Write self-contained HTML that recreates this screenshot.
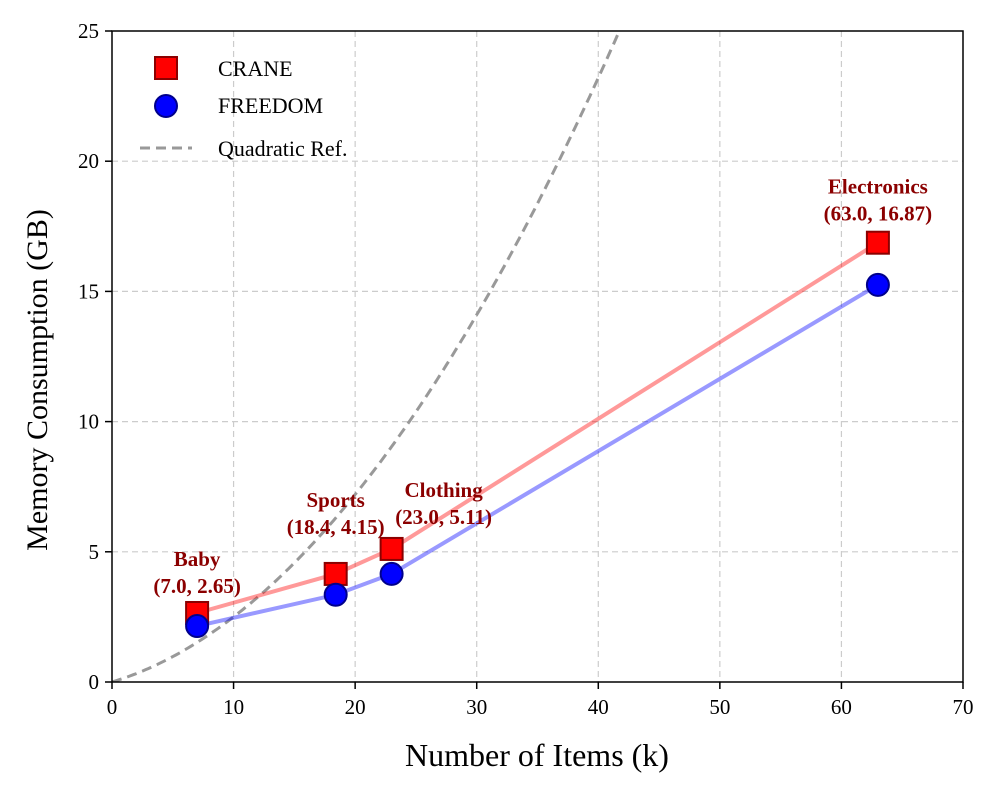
<!DOCTYPE html>
<html><head><meta charset="utf-8"><style>
body{margin:0;background:#fff}
svg{font-family:"Liberation Serif","DejaVu Serif",serif}
</style></head><body>
<svg id="chart" width="998" height="792">
<g id="grid"></g>
<g id="marks"></g>
<g id="axes"></g>
<text x="537" y="766" font-size="32" text-anchor="middle">Number of Items (k)</text>
<text transform="translate(47,380) rotate(-90)" font-size="30" text-anchor="middle">Memory Consumption (GB)</text>
<g font-size="22">
<g><rect x="155" y="57" width="22" height="22" fill="#f00" stroke="#8b0000" stroke-width="2"/><text x="218" y="76">CRANE</text></g>
<g><circle cx="166" cy="106" r="11" fill="#00f" stroke="#00008b" stroke-width="2"/><text x="218" y="113">FREEDOM</text></g>
<g><line x1="140" y1="148" x2="192" y2="148" stroke="#999" stroke-width="3" stroke-dasharray="10,6"/><text x="218" y="156">Quadratic Ref.</text></g>
</g>
</svg>
<script>
const categories=["Baby","Sports","Clothing","Electronics"];
const itemsK=[7.0,18.4,23.0,63.0];
const crane=[2.65,4.15,5.11,16.87];
const freedom=[2.15,3.35,4.15,15.25];
const xTicks=[0,10,20,30,40,50,60,70];
const yTicks=[0,5,10,15,20,25];
const quadA=0.011, quadB=0.14;
// label layout offsets (px), not data
const labelDx=[0,0,52,0], labelDy=[-20,-40,-25,-22];
const NS="http://www.w3.org/2000/svg";
const X=v=>112+v*(963-112)/70, Y=v=>682-v*(682-31)/25;
function mk(t,a,p){const e=document.createElementNS(NS,t);for(const k in a)e.setAttribute(k,a[k]);p.appendChild(e);return e;}
const grid=document.getElementById('grid'),axes=document.getElementById('axes'),marks=document.getElementById('marks');
xTicks.forEach(t=>{if(t>0&&t<70){const l=mk('line',{x1:X(t),x2:X(t),y1:31,y2:682,stroke:'#ccc','stroke-dasharray':'6,4','stroke-width':1.2},grid);}
 mk('line',{x1:X(t),x2:X(t),y1:682,y2:689,stroke:'#000','stroke-width':1.5},axes);
 const tx=mk('text',{x:X(t),y:714,'font-size':21,'text-anchor':'middle'},axes);tx.textContent=t;
 });
yTicks.forEach(t=>{if(t>0&&t<25){const l=mk('line',{x1:112,x2:963,y1:Y(t),y2:Y(t),stroke:'#ccc','stroke-dasharray':'6,4','stroke-width':1.2},grid);}
 mk('line',{x1:105,x2:112,y1:Y(t),y2:Y(t),stroke:'#000','stroke-width':1.5},axes);
 const tx=mk('text',{x:99,y:Y(t)+7,'font-size':21,'text-anchor':'end'},axes);tx.textContent=t;
 });
mk('rect',{x:112,y:31,width:851,height:651,fill:'none',stroke:'#000','stroke-width':1.5},axes);
let d='';for(let x=0;x<=70;x+=0.25){const y=quadA*x*x+quadB*x;if(y>25.5)break;d+=(d?'L':'M')+X(x).toFixed(1)+','+Y(y).toFixed(1);}
const cp=mk('clipPath',{id:'clip'},marks);mk('rect',{x:112,y:31,width:851,height:651},cp);
const q=mk('path',{d:d,fill:'none',stroke:'#999','stroke-width':3,'stroke-dasharray':'10,6','clip-path':'url(#clip)'},marks);

const lc=mk('polyline',{points:itemsK.map((x,i)=>X(x)+','+Y(crane[i])).join(' '),fill:'none',stroke:'#f00','stroke-opacity':0.4,'stroke-width':4},marks);

const lf=mk('polyline',{points:itemsK.map((x,i)=>X(x)+','+Y(freedom[i])).join(' '),fill:'none',stroke:'#00f','stroke-opacity':0.4,'stroke-width':4},marks);

itemsK.forEach((x,i)=>{
 const r=mk('rect',{x:X(x)-11,y:Y(crane[i])-11,width:22,height:22,fill:'#f00',stroke:'#8b0000','stroke-width':2},marks);
 
 const c=mk('circle',{cx:X(x),cy:Y(freedom[i]),r:11,fill:'#00f',stroke:'#00008b','stroke-width':2},marks);
 
 const g=mk('g',{'font-size':21,'font-weight':'bold',fill:'#8b0000','text-anchor':'middle'},marks);
 
 const ty=Y(crane[i])+labelDy[i], tx=X(x)+labelDx[i];
 const t1=mk('text',{x:tx,y:ty-27},g);t1.textContent=categories[i];
 const t2=mk('text',{x:tx,y:ty},g);t2.textContent='('+x.toFixed(1)+', '+crane[i].toFixed(2)+')';
});
</script>
</body></html>
